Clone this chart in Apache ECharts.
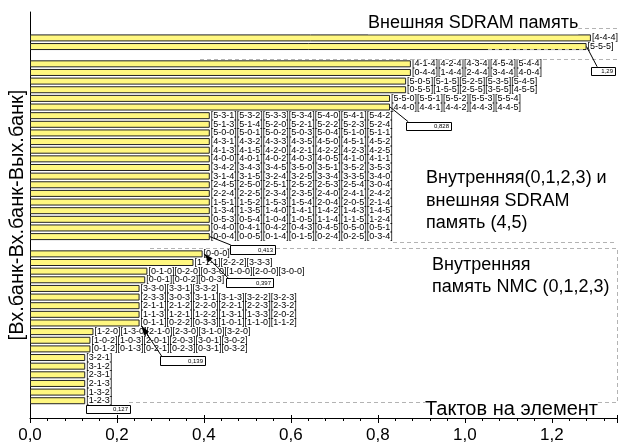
<!DOCTYPE html>
<html><head><meta charset="utf-8">
<script src="https://cdn.jsdelivr.net/npm/echarts/dist/echarts.min.js"></script>
<style>html,body{margin:0;padding:0;background:#fff}#c{width:619px;height:445px}</style>
</head><body><div id="c"></div>
<script>
// Row codes [Вх.банк-Вх.банк-Вых.банк]; first code is the category, the rest are equal-time variants
const rowCodes = [
  [], [], [],
  ['4-4-4'],
  ['5-5-5'],
  [],
  ['4-1-4','4-2-4','4-3-4','4-5-4','5-4-4'],
  ['0-4-4','1-4-4','2-4-4','3-4-4','4-0-4'],
  ['5-0-5','5-1-5','5-2-5','5-3-5','5-4-5'],
  ['0-5-5','1-5-5','2-5-5','3-5-5','4-5-5'],
  ['5-5-0','5-5-1','5-5-2','5-5-3','5-5-4'],
  ['4-4-0','4-4-1','4-4-2','4-4-3','4-4-5'],
  ['5-3-1','5-3-2','5-3-3','5-3-4','5-4-0','5-4-1','5-4-2'],
  ['5-1-3','5-1-4','5-2-0','5-2-1','5-2-2','5-2-3','5-2-4'],
  ['5-0-0','5-0-1','5-0-2','5-0-3','5-0-4','5-1-0','5-1-1'],
  ['4-3-1','4-3-2','4-3-3','4-3-5','4-5-0','4-5-1','4-5-2'],
  ['4-1-3','4-1-5','4-2-0','4-2-1','4-2-2','4-2-3','4-2-5'],
  ['4-0-0','4-0-1','4-0-2','4-0-3','4-0-5','4-1-0','4-1-1'],
  ['3-4-2','3-4-3','3-4-5','3-5-0','3-5-1','3-5-2','3-5-3'],
  ['3-1-4','3-1-5','3-2-4','3-2-5','3-3-4','3-3-5','3-4-0'],
  ['2-4-5','2-5-0','2-5-1','2-5-2','2-5-3','2-5-4','3-0-4'],
  ['2-2-4','2-2-5','2-3-4','2-3-5','2-4-0','2-4-1','2-4-2'],
  ['1-5-1','1-5-2','1-5-3','1-5-4','2-0-4','2-0-5','2-1-4'],
  ['1-3-4','1-3-5','1-4-0','1-4-1','1-4-2','1-4-3','1-4-5'],
  ['0-5-3','0-5-4','1-0-4','1-0-5','1-1-4','1-1-5','1-2-4'],
  ['0-4-0','0-4-1','0-4-2','0-4-3','0-4-5','0-5-0','0-5-1'],
  ['0-0-4','0-0-5','0-1-4','0-1-5','0-2-4','0-2-5','0-3-4'],
  [],
  ['0-0-0'],
  ['1-1-1','2-2-2','3-3-3'],
  ['0-1-0','0-2-0','0-3-0','1-0-0','2-0-0','3-0-0'],
  ['0-0-1','0-0-2','0-0-3'],
  ['3-3-0','3-3-1','3-3-2'],
  ['2-3-3','3-0-3','3-1-1','3-1-3','3-2-2','3-2-3'],
  ['2-1-1','2-1-2','2-2-0','2-2-1','2-2-3','2-3-2'],
  ['1-1-3','1-2-1','1-2-2','1-3-1','1-3-3','2-0-2'],
  ['0-1-1','0-2-2','0-3-3','1-0-1','1-1-0','1-1-2'],
  ['1-2-0','1-3-0','2-1-0','2-3-0','3-1-0','3-2-0'],
  ['1-0-2','1-0-3','2-0-1','2-0-3','3-0-1','3-0-2'],
  ['0-1-2','0-1-3','0-2-1','0-2-3','0-3-1','0-3-2'],
  ['3-2-1'], ['3-1-2'], ['2-3-1'], ['2-1-3'], ['1-3-2'], ['1-2-3'],
  [], []
];
// Cycles per element for each row (null = spacer)
const cycles = [
  null, null, null,
  1.29, 1.28,
  null,
  0.876, 0.876, 0.865, 0.865, 0.828, 0.828,
  0.4135, 0.4135, 0.4135, 0.4135, 0.4135, 0.4135, 0.4135, 0.4135,
  0.4135, 0.4135, 0.4135, 0.4135, 0.4135, 0.4135, 0.4135,
  null,
  0.397, 0.376, 0.27, 0.265,
  0.252, 0.252, 0.252, 0.252, 0.252,
  0.146, 0.139, 0.139,
  0.127, 0.127, 0.127, 0.127, 0.127, 0.127,
  null, null
];
const categories = rowCodes.map(r => r.length ? r[0] : '');
const xTicks = [0, 0.2, 0.4, 0.6, 0.8, 1.0, 1.2];
// callouts: row index, value shown
const calloutRows = [4, 11, 26, 28, 36, 45];
const calloutTexts = ['1,29', '0,828', '0,413', '0,397', '0,139', '0,127'];

const FONT = '"Liberation Sans", Arial, sans-serif';
const chart = echarts.init(document.getElementById('c'), null, {renderer: 'canvas'});
chart.setOption({
  animation: false,
  backgroundColor: '#fff',
  grid: {left: 30, right: 2, top: 12, bottom: 27, containLabel: false, outerBoundsMode: 'none'},
  xAxis: [{
    type: 'value', min: 0, max: 1.35, interval: 0.2, position: 'bottom',
    axisLine: {show: true, lineStyle: {color: '#000', width: 1}},
    axisTick: {show: true, length: 5, lineStyle: {color: '#000', width: 1}},
    minorTick: {show: true, splitNumber: 5, length: 3, lineStyle: {color: '#000', width: 1}},
    splitLine: {show: false}, minorSplitLine: {show: false},
    axisLabel: {show: true, showMaxLabel: false, margin: 9, fontSize: 17, color: '#000', fontFamily: FONT,
      formatter: v => xTicks.some(t => Math.abs(t - v) < 1e-6) ? v.toFixed(1).replace('.', ',') : ''}
  }, {
    type: 'value', min: 0, max: 1.35, interval: 0.2, position: 'bottom',
    axisLine: {show: false},
    axisTick: {show: true, inside: true, length: 3, lineStyle: {color: '#000', width: 1}},
    axisLabel: {show: false}, splitLine: {show: false}
  }],
  yAxis: {
    type: 'category', data: categories, inverse: true, boundaryGap: false,
    axisLine: {show: true, onZero: false, lineStyle: {color: '#000', width: 1}},
    axisTick: {show: false}, axisLabel: {show: false}, splitLine: {show: false},
    name: '[Вх.банк-Вх.банк-Вых.банк]', nameLocation: 'middle', nameRotate: 90, nameGap: 3,
    nameTextStyle: {fontSize: 20, color: '#000', fontFamily: FONT}
  },
  series: [{
    type: 'bar', xAxisIndex: 0, data: cycles, barWidth: 7,
    itemStyle: {color: '#fff780', borderColor: '#222', borderWidth: 1},
    label: {show: true, position: 'right', distance: 1, fontSize: 9, color: '#000', fontFamily: FONT,
      formatter: p => rowCodes[p.dataIndex].map(c => '[' + c + ']').join('')}
  }]
});

// callout geometry (offsets from anchor in px)
const calloutBox = [[4.6, 20.2, 24, 7.5], [16.2, 14.7, 45, 8.3], [20.3, 8.4, 45, 9], [23.5, 24.1, 47, 9], [20, 33, 45, 9], [0.5, 4.3, 44, 8]];
const calloutLead = [[0, 0, 10.6, 20.2], [0, 0, 18.2, 14.7], [0, 0, 21, 8.4], [1.5, 0, 25.5, 24.1], [2, 3, 22, 33], null];
const calloutArrow = [false, false, false, true, true, false];

const g = [];
const dash = (pts) => ({type: 'polyline', shape: {points: pts}, silent: true, z: 20,
  style: {stroke: '#b3b3b3', lineWidth: 1, lineDash: [4, 3], fill: null}});
g.push(dash([[368, 28.5], [617, 28.5]]));
g.push(dash([[488, 49.5], [590, 49.5]]));
g.push(dash([[200, 59.5], [617, 59.5]]));
g.push(dash([[393, 242.5], [617, 242.5]]));
g.push(dash([[150, 248.5], [617.5, 248.5], [617.5, 402.5], [127, 402.5]]));

const txt = (x, y, s, size, extra) => Object.assign({type: 'text', x: x, y: y, silent: true, z: 30,
  style: Object.assign({text: s, fill: '#000', font: size + 'px ' + FONT, textAlign: 'left', textVerticalAlign: 'middle', lineHeight: 22.5}, extra || {})});
g.push(txt(368, 23, 'Внешняя SDRAM память', 18, {backgroundColor: '#fff'}));
g.push(txt(426, 201, 'Внутренняя(0,1,2,3) и\nвнешняя SDRAM\nпамять (4,5)', 18));
g.push(txt(432, 276, 'Внутренняя\nпамять NMC (0,1,2,3)', 18));
g.push(txt(425, 409, 'Тактов на элемент', 20, {backgroundColor: '#fff', lineHeight: 18}));

calloutRows.forEach((row, i) => {
  const a = chart.convertToPixel({xAxisIndex: 0, yAxisIndex: 0}, [cycles[row], row]);
  const b = calloutBox[i];
  const bx = a[0] + b[0], by = a[1] + b[1];
  const L = calloutLead[i];
  if (L) {
    const x1 = a[0] + L[0], y1 = a[1] + L[1], x2 = a[0] + L[2], y2 = a[1] + L[3];
    g.push({type: 'line', shape: {x1: x1, y1: y1, x2: x2, y2: y2}, silent: true, z: 25,
      style: {stroke: '#000', lineWidth: 1}});
    if (calloutArrow[i]) {
      const ang = Math.atan2(y1 - y2, x1 - x2);
      const len = 9, w = 3;
      const bxp = x1 - Math.cos(ang) * len, byp = y1 - Math.sin(ang) * len;
      g.push({type: 'polygon', silent: true, z: 26,
        shape: {points: [[x1, y1], [bxp - Math.sin(ang) * w, byp + Math.cos(ang) * w], [bxp + Math.sin(ang) * w, byp - Math.cos(ang) * w]]},
        style: {fill: '#000'}});
    }
  }
  g.push({type: 'rect', shape: {x: Math.round(bx) + 0.5, y: Math.round(by) + 0.5, width: Math.round(b[2]), height: Math.round(b[3])}, silent: true, z: 27,
    style: {fill: '#fff', stroke: '#000', lineWidth: 1}});
  g.push({type: 'text', x: Math.round(bx) + b[2] - 2, y: Math.round(by) + b[3] / 2 + 0.5, silent: true, z: 28,
    style: {text: calloutTexts[i], fill: '#000', font: '6px ' + FONT, textAlign: 'right', textVerticalAlign: 'middle'}});
});
chart.setOption({graphic: g});
</script>
</body></html>
